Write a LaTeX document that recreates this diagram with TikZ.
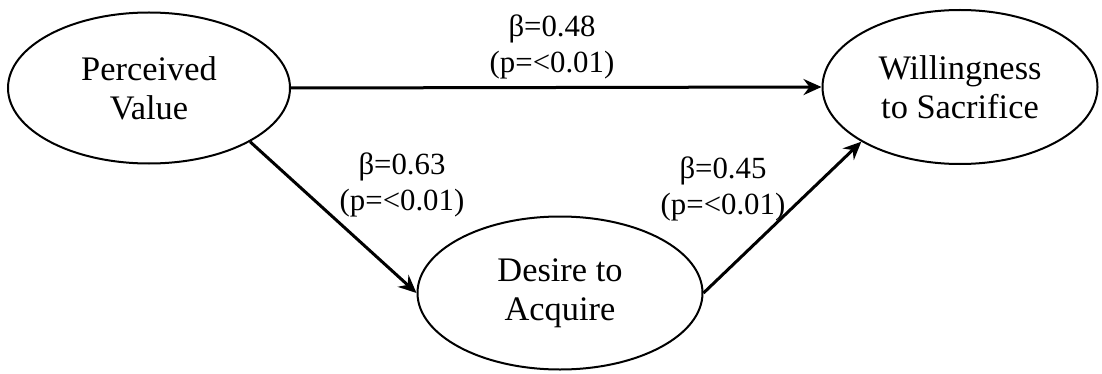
\documentclass[tikz,border=0pt]{standalone}
\usepackage{fontspec}
\setmainfont{Liberation Serif}
\usetikzlibrary{shapes.geometric,arrows.meta}
\tikzset{
  construct/.style={draw=black, line width=1pt, ellipse, inner sep=0pt, align=center,
    font=\fontsize{17.2}{19.5}\selectfont},
  path/.style={line width=1.5pt, -{Stealth[length=9pt,width=8pt,inset=3pt]}},
  coef/.style={align=center, font=\fontsize{15.4}{18}\selectfont, inner sep=0pt}
}
\begin{document}
\begin{tikzpicture}[x=0.5pt,y=-0.5pt]
\useasboundingbox (0,0) rectangle (1102,374);
\node[construct, minimum width=141pt, minimum height=75.5pt] (pv) at (149,88) {Perceived\\Value};
\node[construct, minimum width=137.5pt, minimum height=77pt] (ws) at (960,87) {Willingness\\to Sacrifice};
\node[construct, minimum width=142.5pt, minimum height=76.5pt] (da) at (560,293) {Desire to\\Acquire};
\draw[path] (pv.east) -- (ws.west);
\draw[path] (pv.-28.6) -- (da.west);
\draw[path] (da.east) -- (ws.209.7);
\node[coef] (c1) at (552,47) {β=0.48\\(p=<0.01)};
\node[coef] (c2) at (402,185) {β=0.63\\(p=<0.01)};
\node[coef] (c3) at (723,189) {β=0.45\\(p=<0.01)};
\end{tikzpicture}
\end{document}
